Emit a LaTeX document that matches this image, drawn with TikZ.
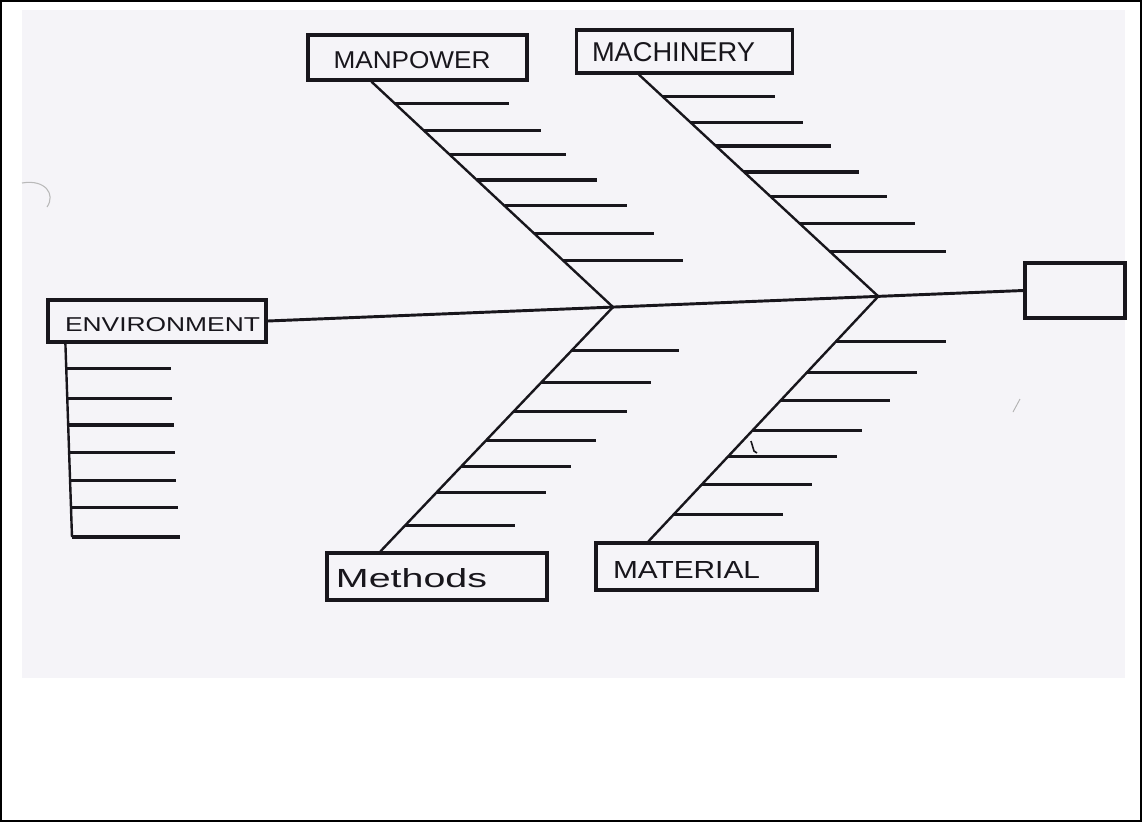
\documentclass[tikz,border=0pt]{standalone}
\usepackage{fontspec}
\setmainfont{Liberation Sans}
\usepackage{graphicx}
\usetikzlibrary{calc}

\definecolor{paper}{RGB}{245,244,248}
\definecolor{ink}{RGB}{24,22,28}

% hand-lettered caption squeezed to a given width and height
\newcommand\handtext[3]{\resizebox{#1}{#2}{#3}}

\begin{document}
\begin{tikzpicture}[x=0.75pt,y=-0.75pt,
  catbox/.style 2 args={draw=ink,line width=2.4pt,inner sep=0pt,
    minimum width=#1*0.75pt,minimum height=#2*0.75pt},
  lbl/.style={inner sep=0pt,text=ink},
  spine/.style={draw=ink,line width=2.2pt},
  bone/.style={draw=ink,line width=1.8pt},
  rib/.style={draw=ink,line width=2.4pt}]

\useasboundingbox (0,0) rectangle (1142,822);

% sheet and frame
\fill[paper] (22,10) rectangle (1125,678);
\draw[black,line width=1.5pt] (1,1) rectangle (1141,821);

% punched-hole edge and stray pen marks on the sheet
\draw[gray!55,line width=0.8pt] (22,183) .. controls (45,179) and (56,194) .. (47,207);
\draw[gray!60,line width=0.7pt] (1013,412) -- (1020,399);
\draw[ink,line width=1.2pt] (751,441) -- (754,451) -- (757,453);

% category boxes and the head box
\node[catbox={219}{45}] (mp)   at (417.5,57.5) {};
\node[catbox={216}{43}] (mc)   at (684.5,51.5) {};
\node[catbox={218}{42}] (env)  at (157,321)    {};
\node[catbox={220}{47}] (mt)   at (437,576.5)  {};
\node[catbox={221}{47}] (ma)   at (706.5,566.5){};
\node[catbox={100}{55}] (head) at (1075,290.5) {};

% captions
\node[lbl] (mpT)  at (412,60.5) {\handtext{117.75pt}{12.75pt}{MANPOWER}};
\node[lbl] (mcT)  at (673.5,52.5) {\handtext{122.25pt}{14.25pt}{MACHINERY}};
\node[lbl] (envT) at (162.5,325) {\handtext{146.25pt}{10.5pt}{ENVIRONMENT}};
\node[lbl] (mtT)  at (411.5,578.5) {\handtext{113.25pt}{14.25pt}{Methods}};
\node[lbl] (maT)  at (686.5,569.5) {\handtext{110.25pt}{12.75pt}{MATERIAL}};

% spine and junctions
\draw[spine] (env.east) -- (head.west);
\coordinate (jA) at ($(env.east)!0.457!(head.west)$);
\coordinate (jB) at ($(env.east)!0.808!(head.west)$);

% bone ends at the boxes
\coordinate (mpA)  at ($(mp.south west)+(65,0)$);
\coordinate (mcA)  at ($(mc.south west)+(64,0)$);
\coordinate (mtA)  at ($(mt.north west)+(55,0)$);
\coordinate (maA)  at ($(ma.north west)+(54,0)$);
\coordinate (envA) at ($(env.south west)+(19,0)$);
\coordinate (envZ) at (72,537);

% main bones
\draw[bone] (mpA) -- (jA);
\draw[bone] (mcA) -- (jB);
\draw[bone] (jA) -- (mtA);
\draw[bone] (jB) -- (maA);
\draw[bone] (envA) -- (envZ);

% ribs
\foreach \t/\l in {0.097/114,0.216/117,0.322/117,0.436/120,0.551/122,0.674/120,0.793/120}
  \draw[rib] ($(mpA)!\t!(jA)$) -- ++(\l,0);
\foreach \t/\l in {0.0985/113,0.215/113,0.322/115,0.439/115,0.551/116,0.671/115,0.797/116}
  \draw[rib] ($(mcA)!\t!(jB)$) -- ++(\l,0);
\foreach \t/\l in {0.179/108,0.309/110,0.427/113,0.545/110,0.654/110,0.760/110,0.894/110}
  \draw[rib] ($(jA)!\t!(mtA)$) -- ++(\l,0);
\foreach \t/\l in {0.185/110,0.311/110,0.424/109,0.546/109,0.655/109,0.769/110,0.891/110}
  \draw[rib] ($(jB)!\t!(maA)$) -- ++(\l,0);
\foreach \t/\l in {0.128/105,0.282/105,0.421/106,0.564/106,0.708/106,0.846/107,1/108}
  \draw[rib] ($(envA)!\t!(envZ)$) -- ++(\l,0);

\end{tikzpicture}
\end{document}
